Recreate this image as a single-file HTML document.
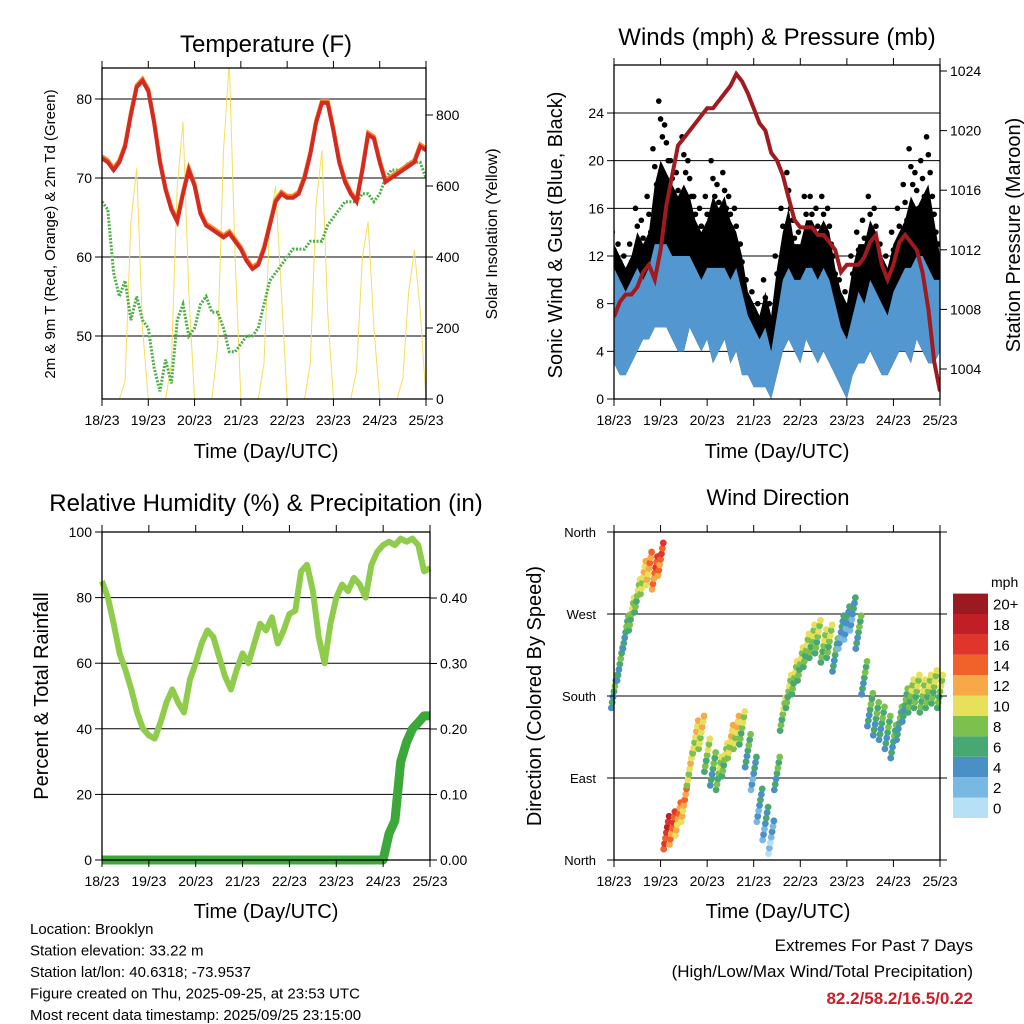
<!DOCTYPE html>
<html><head><meta charset="utf-8"><style>
body{margin:0;background:#fff}
svg{display:block;font-family:"Liberation Sans",sans-serif}
</style></head><body>
<svg id="svg" width="1024" height="1024" viewBox="0 0 1024 1024"></svg>
<script>
// ---------- data (3-hourly from 18/23 UTC) ----------
const dayLabels = ["18/23","19/23","20/23","21/23","22/23","23/23","24/23","25/23"];
const tempF = [72.5,72,71,72,74,78,81.5,82.3,81,77,72,68.5,66,64.5,68,71,69,65.5,64,63.5,63,62.5,63,62,61,59.5,58.5,59,61,64,67,68,67.5,67.5,68,70,73,77,79.5,79.5,76,72,69.5,68,67,71,75.5,75,72,69.5,70,70.5,71,71.5,72,74,73.5];
const dewF = [67,66,58,55,57,52,55,52,51,46,43,47,44,52,54,50,51,54,55,53,53,51,48,48,49,50,50,51,54,57,58,59,60,61,61,61,62,62,62,64,65,66,67,67,67,68,68,67,68,70,71,71,71,72,72,72,70];
const solar = [0,0,0,0,50,500,650,200,0,0,0,0,100,600,780,300,0,0,0,0,150,700,950,400,0,0,0,0,100,500,600,300,0,0,0,0,100,550,700,250,0,0,0,0,80,400,500,200,0,0,0,0,60,300,420,250,0];
const pressure = [1007.5,1008.5,1009,1009,1009.5,1010.5,1011,1010,1012,1015,1017,1019,1019.5,1020,1020.5,1021,1021.5,1021.5,1022,1022.5,1023,1023.8,1023.3,1022.5,1021.5,1020.5,1020,1018.5,1018,1017,1015.5,1014,1013.5,1013.5,1013.5,1013,1013,1012.5,1012,1010.5,1011,1011,1011,1011.5,1012.5,1013,1011,1010,1011,1012.5,1013,1012.5,1012,1010.5,1008,1004.5,1002.5];
const windLo = [3,2,2,3,4,5,5,6,6,6,5,4,4,6,5,4,5,3,4,5,3,4,2,2,1,1,1,0,2,4,5,4,3,5,4,3,4,3,2,1,0,2,3,3,4,3,2,2,3,4,4,3,5,4,3,3,4];
const windHi = [11,10,9,10,11,10,11,13,13,13,12,12,12,12,11,10,11,11,11,11,10,11,9,7,6,5,6,4,7,10,11,10,10,11,11,10,11,10,8,6,5,7,9,8,10,9,8,7,9,10,11,11,12,12,11,10,10];
const gust = [13,12,11,12,14,13,14,18,20,19,18,17,18,17,15,14,15,17,16,17,15,14,12,9,8,7,9,7,11,14,16,13,13,15,15,14,15,14,11,9,8,11,13,13,15,14,12,11,13,14,15,17,16,17,18,15,12];
const gustMax = [14,13,12,13,16,15,17,21,25,23,20,19,22,20,17,16,17,20,18,19,17,16,13,10,9,8,10,8,12,16,19,15,14,17,17,16,17,16,12,10,9,12,14,15,17,16,13,12,14,16,18,21,19,20,22,17,13];
const rh = [85,80,72,63,58,52,45,40,38,37,42,48,52,48,45,55,60,66,70,68,62,56,52,58,63,60,66,72,70,74,66,70,75,76,88,90,82,68,60,72,80,84,82,86,84,80,90,94,96,97,96,98,97,98,96,88,89];
const precip = [0,0,0,0,0,0,0,0,0,0,0,0,0,0,0,0,0,0,0,0,0,0,0,0,0,0,0,0,0,0,0,0,0,0,0,0,0,0,0,0,0,0,0,0,0,0,0,0,0,0.04,0.06,0.15,0.18,0.2,0.21,0.22,0.22];
const windDir = [185,215,250,270,290,310,320,315,330,30,35,45,60,100,135,140,115,100,95,110,130,140,145,120,95,60,40,25,95,160,185,200,215,230,240,245,235,240,225,250,260,270,250,200,165,155,150,140,130,150,170,180,185,180,185,190,185];
const dirSpeed = [5,6,6,7,8,9,11,13,14,15,14,12,11,9,9,9,7,6,7,8,9,10,8,5,4,3,3,2,5,7,8,7,7,8,8,7,8,7,6,4,3,4,5,6,6,6,5,5,5,6,6,7,7,7,7,7,7];
const tempTicks = [50,60,70,80];
const solarTicks = [0,200,400,600,800];
const windTicks = [0,4,8,12,16,20,24];
const presTicks = [1004,1008,1012,1016,1020,1024];
const rhTicks = [0,20,40,60,80,100];
const precTicks = [0,0.1,0.2,0.3,0.4];
const dirTicks = [0,90,180,270,360];
const dirNames = ["North","East","South","West","North"];
const cbLabels = ["0","2","4","6","8","10","12","14","16","18","20+"];
const cbColors = ["#b5e0f6","#7ab8e4","#4a8fc6","#48a874","#7cc14e","#e6e05a","#f7a94a","#f0622a","#e0352a","#c01f26","#9b1a1f"];

const NS="http://www.w3.org/2000/svg";
const svg=document.getElementById('svg');
function mk(tag,attrs,parent){const e=document.createElementNS(NS,tag);for(const k in attrs)e.setAttribute(k,attrs[k]);(parent||svg).appendChild(e);return e;}
function txt(s,x,y,size,anchor,parent,extra){const t=mk('text',Object.assign({x:x,y:y,'font-size':size,'text-anchor':anchor||'middle',fill:'#000'},extra||{}),parent);t.textContent=s;return t;}
function lin(d0,d1,r0,r1){return v=>r0+(v-d0)*(r1-r0)/(d1-d0);}
function pts(arr,fx,fy){return arr.map((v,i)=>fx(i).toFixed(1)+','+fy(v).toFixed(1)).join(' ');}
const N=56;

function frame(g,L,R,T,B){
  mk('rect',{x:L,y:T,width:R-L,height:B-T,fill:'none',stroke:'#000','stroke-width':1.3},g);
  for(let d=0;d<=7;d++){const x=L+(R-L)*d/7;
    mk('line',{x1:x,x2:x,y1:B,y2:B+7,stroke:'#000'},g);
    mk('line',{x1:x,x2:x,y1:T,y2:T-7,stroke:'#000'},g);
    const t=txt(dayLabels[d],x,B+26,14,'middle',g);
    
    
  }
}
function yaxis(g,ticks,fy,x,side,fmt){
  ticks.forEach(v=>{const y=fy(v);
    mk('line',{x1:x,x2:x+(side<0?-7:7),y1:y,y2:y,stroke:'#000'},g);
    const t=txt(fmt(v),x+(side<0?-10:10),y+5,14,side<0?'end':'start',g);
    
    
  });
}

// ---------- Panel 1 Temperature ----------
(function(){
  const g=mk('g',{});
  
  
  const L=102,R=426,T=68,B=399;
  const fx=lin(0,N,L,R), fy=lin(50,80,336,99), fs=lin(0,800,399,115);
  const cl=mk('clipPath',{id:'c1'},g);mk('rect',{x:L,y:T,width:R-L,height:B-T},cl);
  tempTicks.forEach(v=>mk('line',{x1:L,x2:R,y1:fy(v),y2:fy(v),stroke:'#000'},g));
  const s=mk('polyline',{points:pts(solar,fx,fs),fill:'none',stroke:'#f6df5a','stroke-width':1,'clip-path':'url(#c1)'},g);
  
  
  const dw=mk('polyline',{points:pts(dewF,fx,fy),fill:'none',stroke:'#4fae45','stroke-width':3,'stroke-dasharray':'2 1.5','clip-path':'url(#c1)'},g);
  
  
  const o=mk('polyline',{points:pts(tempF,fx,v=>fy(v)-2),fill:'none',stroke:'#f28a2a','stroke-width':4,'clip-path':'url(#c1)'},g);
  
  
  const r=mk('polyline',{points:pts(tempF,fx,fy),fill:'none',stroke:'#d42a22','stroke-width':4,'clip-path':'url(#c1)'},g);
  
  
  frame(g,L,R,T,B);
  yaxis(g,tempTicks,fy,L,-1,v=>v);
  yaxis(g,solarTicks,fs,R,1,v=>v);
  const t=txt('Temperature (F)',266,52,24,'middle',g);
  const xt=txt('Time (Day/UTC)',266,458,20,'middle',g);
  const yl=txt('2m & 9m T (Red, Orange) & 2m Td (Green)',0,0,15,'middle',g,{transform:'translate(55,234) rotate(-90)'});
  const yr=txt('Solar Insolation (Yellow)',0,0,16,'middle',g,{transform:'translate(497,234) rotate(-90)'});
})();

// ---------- Panel 2 Winds ----------
(function(){
  const g=mk('g',{});
  
  
  const L=614,R=940,T=65,B=399;
  const fx=lin(0,N,L,R), fy=lin(0,24,399,113), fp=lin(1004,1024,369,71);
  const cl=mk('clipPath',{id:'c2'},g);mk('rect',{x:L,y:T,width:R-L,height:B-T},cl);
  windTicks.forEach(v=>mk('line',{x1:L,x2:R,y1:fy(v),y2:fy(v),stroke:'#000'},g));
  const gb=gust.map((v,i)=>fx(i)+','+fy(v)).concat(windLo.map((v,i)=>fx(i)+','+fy(v)).reverse()).join(' ');
  const gp=mk('polygon',{points:gb,fill:'#000','clip-path':'url(#c2)'},g);
  
  
  gustMax.forEach((v,i)=>{
    for(let k=0;k<3;k++){
      const c=mk('circle',{cx:fx(i)+(k-1)*1.8,cy:fy(v-k*1.5),r:2.8,fill:'#000','clip-path':'url(#c2)'},g);
      
      
    }
  });
  const wb=windHi.map((v,i)=>fx(i)+','+fy(v)).concat(windLo.map((v,i)=>fx(i)+','+fy(v)).reverse()).join(' ');
  const wp=mk('polygon',{points:wb,fill:'#5297d0','clip-path':'url(#c2)'},g);
  
  
  const p=mk('polyline',{points:pts(pressure,fx,fp),fill:'none',stroke:'#a11a1f','stroke-width':4,'clip-path':'url(#c2)'},g);
  
  
  frame(g,L,R,T,B);
  yaxis(g,windTicks,fy,L,-1,v=>v);
  yaxis(g,presTicks,fp,R,1,v=>v);
  const t=txt('Winds (mph) & Pressure (mb)',777,45,24,'middle',g);
  const xt=txt('Time (Day/UTC)',777,458,20,'middle',g);
  const yl=txt('Sonic Wind & Gust (Blue, Black)',0,0,20,'middle',g,{transform:'translate(562,235) rotate(-90)'});
  const yr=txt('Station Pressure (Maroon)',0,0,20,'middle',g,{transform:'translate(1020,235) rotate(-90)'});
})();

// ---------- Panel 3 RH ----------
(function(){
  const g=mk('g',{});
  
  
  const L=102,R=430,T=532,B=860;
  const fx=lin(0,N,L,R), fy=lin(0,100,860,532), fp=lin(0,0.4,860,598);
  [20,40,60,80].forEach(v=>mk('line',{x1:L,x2:R,y1:fy(v),y2:fy(v),stroke:'#000'},g));
  const r=mk('polyline',{points:pts(rh,fx,fy),fill:'none',stroke:'#8fcc4c','stroke-width':6,'stroke-linejoin':'round'},g);
  
  
  const p=mk('polyline',{points:pts(precip,fx,fp),fill:'none',stroke:'#3da83a','stroke-width':9,'stroke-linejoin':'round'},g);
  
  
  frame(g,L,R,T,B);
  yaxis(g,rhTicks,fy,L,-1,v=>v);
  yaxis(g,precTicks,fp,R,1,v=>v.toFixed(2));
  const t=txt('Relative Humidity (%) & Precipitation (in)',266,511,24,'middle',g);
  const xt=txt('Time (Day/UTC)',266,918,20,'middle',g);
  const yl=txt('Percent & Total Rainfall',0,0,20,'middle',g,{transform:'translate(48,696) rotate(-90)'});
})();

// ---------- Panel 4 Wind direction ----------
(function(){
  const g=mk('g',{});
  
  
  const L=614,R=940,T=532,B=860;
  const fx=lin(0,N,L,R), fy=lin(0,360,860,532);
  [90,180,270].forEach(v=>mk('line',{x1:L,x2:R,y1:fy(v),y2:fy(v),stroke:'#000'},g));
  const col=s=>cbColors[Math.max(0,Math.min(10,Math.round(s/2)))];
  windDir.forEach((d,i)=>{
    for(let k=-3;k<=3;k++){
      const c=mk('circle',{cx:fx(i)+k*0.9,cy:fy(((d+k*6)+360)%360),r:3.4,fill:col(dirSpeed[i]+(k%2)*2)},g);
      
      
    }
  });
  frame(g,L,R,T,B);
  dirTicks.forEach((v,j)=>{const y=fy(v);
    mk('line',{x1:L,x2:L-7,y1:y,y2:y,stroke:'#000'},g);
    mk('line',{x1:R,x2:R+7,y1:y,y2:y,stroke:'#000'},g);
    const t=txt(dirNames[j],L-18,y+5,13,'end',g);
    
    
  });
  const t=txt('Wind Direction',778,505,22,'middle',g);
  const xt=txt('Time (Day/UTC)',778,918,20,'middle',g);
  const yl=txt('Direction (Colored By Speed)',0,0,20,'middle',g,{transform:'translate(541,696) rotate(-90)'});
  const cb=mk('g',{},g);
  
  
  cbColors.forEach((c,i)=>{const y=818-(i+1)*20.4;
    const r=mk('rect',{x:953,y:y,width:35,height:20.4,fill:c},cb);
    
    
    const l=txt(cbLabels[i],993,y+16,15,'start',cb);
    
    
  });
  const m=txt('mph',991,587,14,'start',cb);
})();

// ---------- footer ----------
const info=["Location: Brooklyn","Station elevation: 33.22 m","Station lat/lon: 40.6318; -73.9537","Figure created on Thu, 2025-09-25, at 23:53 UTC","Most recent data timestamp: 2025/09/25 23:15:00"];
info.forEach((s,i)=>{const t=txt(s,30,934+i*21.5,15,'start');});
const e1=txt('Extremes For Past 7 Days',973,951,17,'end');
const e2=txt('(High/Low/Max Wind/Total Precipitation)',973,977,17,'end');
const e3=txt('82.2/58.2/16.5/0.22',973,1004,17,'end',null,{fill:'#c8202a','font-weight':'bold'});
</script>
</body></html>
